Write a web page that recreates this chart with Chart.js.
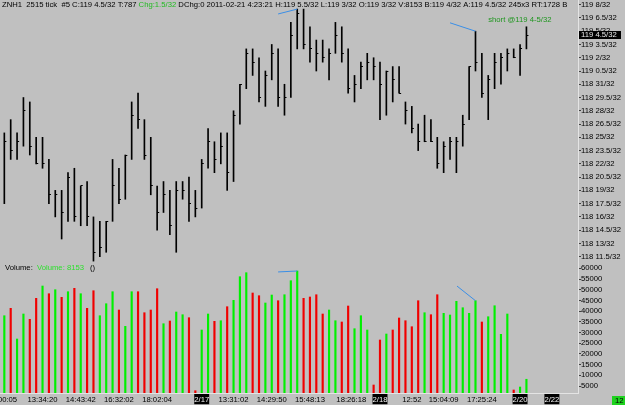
<!DOCTYPE html>
<html>
<head>
<meta charset="utf-8">
<script src="https://cdn.jsdelivr.net/npm/chart.js@4/dist/chart.umd.min.js"></script>
<style>
  html, body { margin: 0; padding: 0; background: #c0c0c0; }
  canvas { display: block; }
</style>
</head>
<body>
<canvas id="chart" width="625" height="405"></canvas>
<script>
// ZNH1 2515 tick chart. Prices are kept as 32nds above 118.
const BASE = 118;

const barHigh = [
  25.5, 27, 25.5, 29.5, 29, 25, 25, 22.5, 19, 19,
  21, 21.5, 19.5, 20, 16, 15.5, 15.5, 22.5, 21.5, 23,
  29, 30, 27, 25, 19.5, 20, 19, 20, 20, 20.5,
  19, 22.5, 26, 24.5, 25.5, 25.5, 28, 31, 35, 35,
  34, 32.5, 35.5, 35, 31, 38, 39.5, 39.5, 37.5, 36,
  36, 35, 38, 37.5, 35, 32, 33.5, 34.5, 34, 33.5,
  32.5, 33, 33, 29, 28.5, 26.5, 27.5, 27, 25, 24.5,
  25, 25, 27.5, 33, 37, 34.5, 32, 34.5, 34.5, 35,
  35, 35.5, 37.5
];
const barLow = [
  17.5, 22.5, 22.5, 24, 23, 22, 21.5, 17.5, 16, 13.5,
  15.5, 15.5, 15, 15, 11, 11.5, 12, 15.5, 17.5, 18,
  22.5, 26, 22.5, 18.5, 14.5, 16.5, 14, 12, 18, 15.5,
  16, 17, 21.5, 21, 22, 19, 20, 26.5, 30.5, 32,
  29, 28.5, 31.5, 28.5, 27.5, 29.5, 35, 35, 33.5, 32.5,
  33.5, 31.5, 34.5, 33.5, 30, 29, 30.5, 31.5, 31.5, 27,
  27.5, 29, 30, 26.5, 25.5, 23.5, 24.5, 24.5, 21.5, 21,
  22.5, 21, 24, 27, 32.5, 29.5, 27, 30.5, 31, 32.5,
  34, 32, 35
];
const barClose = [
  24.5, 23.5, 24.5, 28, 24, 22, 22, 18.5, 18.5, 16.5,
  20.5, 16, 19.5, 16, 12, 12.5, 15.5, 19.5, 18, 23,
  27.5, 27, 23, 19.5, 16.5, 18.5, 15, 19, 19, 17.5,
  17, 22, 24.5, 22.5, 24, 21, 27.5, 31, 34.5, 33.5,
  29.5, 32, 34.5, 29.5, 29.5, 36.5, 39, 35.5, 35, 34.5,
  34, 34.5, 36.5, 34.5, 30.5, 31, 33, 33.5, 33, 31,
  32.5, 31.5, 30, 28, 26, 24.5, 24.5, 24.5, 22, 24,
  24.5, 24.5, 26.5, 33, 33.5, 30, 31.5, 33.5, 34, 34.5,
  34, 35, 36.5
];
const volume = [
  37850, 41300, 26960, 38650, 36170, 45980, 51730, 48130, 50000, 46450,
  49070, 50650, 48130, 41300, 49530, 37850, 43460, 49070, 40510, 32900,
  49070, 49070, 39250, 40510, 50470, 34110, 35370, 39580, 38320, 36920,
  2800, 31170, 38650, 35230, 35510, 42060, 45050, 56080, 57950, 48460,
  47200, 43790, 47520, 44860, 47660, 54210, 58740, 45980, 46590, 47660,
  38650, 40510, 35510, 34910, 42380, 31780, 37850, 31170, 5470, 26500,
  29300, 31170, 36780, 35510, 32710, 44860, 39250, 38320, 47660, 38970,
  38180, 44580, 41590, 38970, 44860, 34910, 37380, 42520, 29160, 38650,
  3130, 4530, 8153
];
// 1 = green (up) volume bar, 0 = red (down)
const volUp = [
  1, 0, 1, 1, 0, 0, 1, 0, 1, 0,
  1, 0, 1, 0, 0, 1, 1, 1, 0, 1,
  1, 0, 0, 0, 0, 1, 0, 1, 1, 0,
  0, 1, 1, 0, 1, 0, 1, 1, 1, 0,
  0, 1, 1, 0, 1, 1, 1, 0, 0, 0,
  0, 1, 1, 0, 0, 1, 1, 1, 0, 0,
  1, 0, 0, 0, 0, 0, 1, 0, 0, 1,
  1, 1, 1, 1, 1, 0, 1, 1, 1, 1,
  0, 1, 1
];

const priceTicks = [40, 38.5, 37, 35.5, 34, 32.5, 31, 29.5, 28, 26.5, 25, 23.5, 22, 20.5, 19, 17.5, 16, 14.5, 13, 11.5];
const volumeTicks = [60000, 55000, 50000, 45000, 40000, 35000, 30000, 25000, 20000, 15000, 10000, 5000];

// x axis: bar index of each time label
const xTickPos = [0.5, 6, 12, 18, 24, 31, 36, 42, 48, 54.5, 59, 64, 69, 75, 81, 86];
const xTickLabels = ['00:05', '13:34:20', '14:43:42', '16:32:02', '18:02:04', '2/17', '13:31:02', '14:29:50',
  '15:48:13', '18:26:18', '2/18', '12:52', '15:04:09', '17:25:24', '2/20', '2/22'];
const dateLabels = ['2/17', '2/18', '2/20', '2/22'];

// drawn trend lines (bar index / value)
const priceLines = [
  { x0: 43.0, y0: 38.95, x1: 46, y1: 39.5 },
  { x0: 70.0, y0: 37.95, x1: 74, y1: 37 }
];
const volumeLines = [
  { x0: 43.0, y0: 58300, x1: 46, y1: 58740 },
  { x0: 71.1, y0: 51700, x1: 74, y1: 44860 }
];
const tradeNote = { x: 76, y: 38.3, text: 'short @119 4-5/32' };

const headerParts = [
  ['ZNH1  2515 tick  #5 C:119 4.5/32 T:787 ', '#000'],
  ['Chg:1.5/32', '#22bb22'],
  [' DChg:0 2011-02-21 4:23:21 H:119 5.5/32 L:119 3/32 O:119 3/32 V:8153 B:119 4/32 A:119 4.5/32 245x3 RT:1728 B', '#000']
];

const FONT = '"Liberation Sans", Arial, sans-serif';
const FSIZE = 7.7;
Chart.defaults.font.family = FONT;
Chart.defaults.font.size = FSIZE;
Chart.defaults.color = '#000';

function fmt32(v) {
  const whole = BASE + Math.floor(v / 32);
  return whole + ' ' + (v % 32) + '/32';
}

// close tick, sits on the right of the bar
function makeCloseMark() {
  const c = document.createElement('canvas');
  c.width = 6;
  c.height = 1;
  const g = c.getContext('2d');
  g.fillStyle = '#000';
  g.fillRect(3, 0, 2, 1);
  return c;
}

const idx = barHigh.map((_, i) => i);

const overlay = {
  id: 'overlay',
  afterDatasetsDraw(chart) {
    const ctx = chart.ctx;
    const x = chart.scales.x, yP = chart.scales.yP, yV = chart.scales.yV;
    ctx.save();
    ctx.strokeStyle = '#3a8ee6';
    ctx.lineWidth = 1;
    priceLines.forEach(l => {
      ctx.beginPath();
      ctx.moveTo(x.getPixelForValue(l.x0), yP.getPixelForValue(l.y0));
      ctx.lineTo(x.getPixelForValue(l.x1), yP.getPixelForValue(l.y1));
      ctx.stroke();
    });
    volumeLines.forEach(l => {
      ctx.beginPath();
      ctx.moveTo(x.getPixelForValue(l.x0), yV.getPixelForValue(l.y0));
      ctx.lineTo(x.getPixelForValue(l.x1), yV.getPixelForValue(l.y1));
      ctx.stroke();
    });
    ctx.restore();
  },
  afterDraw(chart) {
    const ctx = chart.ctx;
    const area = chart.chartArea;
    const x = chart.scales.x, yP = chart.scales.yP, yV = chart.scales.yV;
    ctx.save();
    ctx.font = FSIZE + 'px ' + FONT;
    ctx.textBaseline = 'middle';

    // header line, cut at the price axis
    ctx.save();
    ctx.beginPath();
    ctx.rect(0, 0, area.right, 12);
    ctx.clip();
    let hx = 2;
    headerParts.forEach(([t, c]) => {
      ctx.fillStyle = c;
      ctx.fillText(t, hx, 5);
      hx += ctx.measureText(t).width;
    });
    ctx.restore();

    // trade note
    ctx.fillStyle = '#1f961f';
    ctx.fillText(tradeNote.text, x.getPixelForValue(tradeNote.x), yP.getPixelForValue(tradeNote.y));

    // volume pane caption
    const vy = yV.top + 6;
    ctx.fillStyle = '#000';
    ctx.fillText('Volume:', 5, vy);
    ctx.fillStyle = '#2ee02e';
    ctx.fillText('Volume: ' + volume[volume.length - 1], 37, vy);
    ctx.fillStyle = '#000';
    ctx.fillText('()', 90, vy);

    // last price marker on the axis
    const last = barClose[barClose.length - 1];
    const py = Math.round(yP.getPixelForValue(last)) - 1;
    ctx.fillStyle = '#000';
    ctx.fillRect(yP.left + 1, py - 4, 42, 8);
    ctx.fillStyle = '#e8e8e8';
    ctx.fillText(fmt32(last), yP.left + 3, py);

    // bar counter box
    ctx.fillStyle = '#1ed21e';
    ctx.fillRect(chart.width - 13, chart.height - 9, 13, 9);
    ctx.fillStyle = '#000';
    ctx.fillText('12', chart.width - 10, chart.height - 4.5);
    ctx.restore();
  }
};

const yAfterFit = s => { s.width = 47; s.paddingTop = 0; s.paddingBottom = 0; };

new Chart(document.getElementById('chart'), {
  type: 'bar',
  data: {
    datasets: [
      {
        type: 'line',
        data: idx.map(i => ({ x: i, y: barClose[i] })),
        xAxisID: 'x',
        yAxisID: 'yP',
        showLine: false,
        pointStyle: makeCloseMark(),
        pointRadius: 2,
        order: 0
      },
      {
        type: 'bar',
        data: idx.map(i => ({ x: i, y: [barLow[i], barHigh[i]] })),
        xAxisID: 'x',
        yAxisID: 'yP',
        backgroundColor: '#000',
        barThickness: 1,
        grouped: false,
        order: 1
      },
      {
        type: 'bar',
        data: idx.map(i => ({ x: i, y: volume[i] })),
        xAxisID: 'x',
        yAxisID: 'yV',
        backgroundColor: idx.map(i => volUp[i] ? '#00f000' : '#f00000'),
        barThickness: 1.5,
        grouped: false,
        order: 1
      }
    ]
  },
  options: {
    responsive: false,
    animation: false,
    events: [],
    layout: { padding: 0, autoPadding: false },
    plugins: {
      legend: { display: false },
      tooltip: { enabled: false }
    },
    scales: {
      x: {
        type: 'linear',
        position: 'bottom',
        offset: false,
        min: -0.68,
        max: 90.1,
        grid: { display: false, drawTicks: false },
        border: { display: true, color: '#e4e4e4' },
        afterBuildTicks: s => { s.ticks = xTickPos.map(v => ({ value: v })); },
        afterFit: s => { s.height = 12; s.paddingLeft = 0; s.paddingRight = 0; },
        ticks: {
          autoSkip: false,
          maxRotation: 0,
          padding: 2,
          color: c => dateLabels.includes(xTickLabels[c.index]) ? '#f0f0f0' : '#000',
          showLabelBackdrop: c => dateLabels.includes(xTickLabels[c.index]),
          backdropColor: '#000',
          backdropPadding: { top: 1, bottom: 0, left: 0, right: 0 },
          callback: (v, i) => xTickLabels[i]
        }
      },
      yP: {
        type: 'linear',
        position: 'right',
        stack: 'panes',
        stackWeight: 2,
        min: 10.9,
        max: 40.53,
        bounds: 'data',
        grid: { display: true, drawOnChartArea: false, drawTicks: true, tickLength: 3, color: '#404040' },
        border: { display: true, color: '#e4e4e4' },
        afterBuildTicks: s => { s.ticks = priceTicks.map(v => ({ value: v })); },
        afterFit: yAfterFit,
        ticks: { padding: 0, autoSkip: false, callback: v => fmt32(v) }
      },
      yV: {
        type: 'linear',
        position: 'right',
        stack: 'panes',
        stackWeight: 1,
        min: 1730,
        max: 62950,
        bounds: 'data',
        grid: { display: true, drawOnChartArea: false, drawTicks: true, tickLength: 3, color: '#404040' },
        border: { display: true, color: '#e4e4e4' },
        afterBuildTicks: s => { s.ticks = volumeTicks.map(v => ({ value: v })); },
        afterFit: yAfterFit,
        ticks: { padding: 0, autoSkip: false, callback: v => String(v) }
      }
    }
  },
  plugins: [overlay]
});
</script>
</body>
</html>
